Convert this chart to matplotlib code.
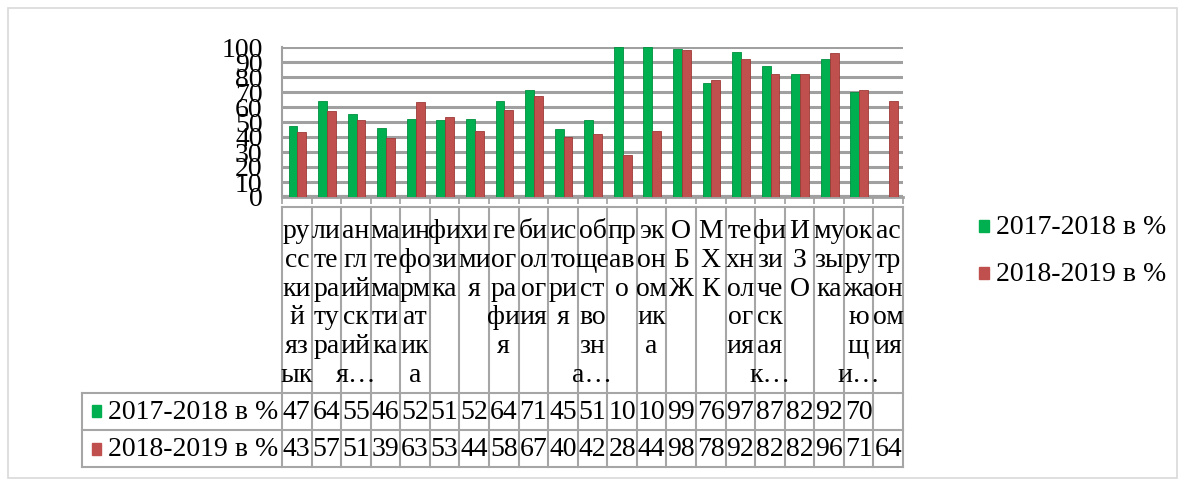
import numpy as np
import matplotlib.pyplot as plt
from matplotlib.patches import Rectangle

plt.rcParams['font.family'] = ['Liberation Serif', 'DejaVu Serif']

# --- data ---
labels = ["ру\nсс\nки\nй\nяз\nык", "ли\nте\nра\nту\nра", "ан\nгл\nий\nск\nий\nя…",
          "ма\nте\nма\nти\nка", "ин\nфо\nрм\nат\nик\nа", "фи\nзи\nка", "хи\nми\nя",
          "ге\nог\nра\nфи\nя", "би\nол\nог\nия", "ис\nто\nри\nя", "об\nще\nст\nво\nзн\nа…",
          "пр\nав\nо", "эк\nон\nом\nик\nа", "О\nБ\nЖ", "М\nХ\nК", "те\nхн\nол\nог\nия",
          "фи\nзи\nче\nск\nая\nк…", "И\nЗ\nО", "му\nзы\nка", "ок\nру\nжа\nю\nщ\nи…",
          "ас\nтр\nон\nом\nия"]
s1_name = "2017-2018 в %"
s2_name = "2018-2019 в %"
s1 = [47, 64, 55, 46, 52, 51, 52, 64, 71, 45, 51, 100, 100, 99, 76, 97, 87, 82, 92, 70, None]
s2 = [43, 57, 51, 39, 63, 53, 44, 58, 67, 40, 42, 28, 44, 98, 78, 92, 82, 82, 96, 71, 64]

green = '#00B050'
red = '#C0504D'
grid = '#A0A0A0'

W, H = 1185, 486
fig = plt.figure(figsize=(W / 100, H / 100), dpi=100)

def fx(px):
    return px / W

def fy(py):
    return 1 - py / H

# plot area (pixels)
x0, x1 = 282, 903
y100, y0 = 47, 197
n = len(labels)
colw = (x1 - x0) / n

ax = fig.add_axes([fx(x0), fy(y0), fx(x1) - fx(x0), fy(y100) - fy(y0)])
idx = np.arange(n)
g = np.array([np.nan if v is None else v for v in s1], dtype=float)
r = np.array(s2, dtype=float)
ax.bar(idx - 0.13, g, width=0.3, color=green, edgecolor='#00903F', linewidth=0.6, zorder=3)
ax.bar(idx + 0.17, r, width=0.3, color=red, edgecolor='#9E3B38', linewidth=0.6, zorder=3)
ax.set_xlim(-0.5, n - 0.5)
ax.set_ylim(0, 100)
ax.set_yticks(range(0, 101, 10))
ax.set_yticklabels([str(v) for v in range(0, 101, 10)], fontsize=20)
ax.tick_params(axis='y', length=0, pad=14)
ax.set_xticks(np.arange(n + 1) - 0.5)
ax.set_xticklabels([])
ax.tick_params(axis='x', length=5, color=grid, width=1.2, direction='out')
for v in range(10, 101, 10):
    ax.axhline(v, color=grid, lw=2.2, zorder=1)
ax.axhline(0, color=grid, lw=3, zorder=1)
for sp in ['top', 'right']:
    ax.spines[sp].set_visible(False)
ax.spines['left'].set_color(grid)
ax.spines['left'].set_linewidth(1.5)
ax.spines['bottom'].set_color(grid)
ax.spines['bottom'].set_linewidth(2)
ax.patch.set_alpha(0)

# overlay axes in pixel coordinates for table, legend, frame
ov = fig.add_axes([0, 0, 1, 1])
ov.set_xlim(0, W)
ov.set_ylim(H, 0)
ov.axis('off')
ov.patch.set_alpha(0)

ov.add_patch(Rectangle((8, 8), 1169, 470, fill=False, edgecolor='#D9D9D9', lw=1.2))

ty0, ty1, ty2, ty3 = 207, 393, 430, 467
hx = 82
lc = '#A6A6A6'
ov.plot([x0, x1], [ty0, ty0], color=lc, lw=1.5)
for yy in (ty1, ty2, ty3):
    ov.plot([hx, x1], [yy, yy], color=lc, lw=1.5)
ov.plot([hx, hx], [ty1, ty3], color=lc, lw=1.5)
for i in range(n + 1):
    xx = x0 + i * colw
    ov.plot([xx, xx], [ty0, ty3], color=lc, lw=1.5)

for i, lab in enumerate(labels):
    cx = x0 + (i + 0.5) * colw
    ov.text(cx, 219, lab, ha='center', va='top', fontsize=20, linespacing=1.2)
    if s1[i] is not None:
        ov.text(cx, (ty1 + ty2) / 2 + 1, str(s1[i])[:2], ha='center', va='center', fontsize=20)
    ov.text(cx, (ty2 + ty3) / 2 + 1, str(s2[i])[:2], ha='center', va='center', fontsize=20)

# row headers
ov.add_patch(Rectangle((92, 405), 9, 12, color=green))
ov.text(108, (ty1 + ty2) / 2 + 1, s1_name, ha='left', va='center', fontsize=20)
ov.add_patch(Rectangle((92, 443), 9, 12, color=red))
ov.text(108, (ty2 + ty3) / 2 + 1, s2_name, ha='left', va='center', fontsize=20)

# legend
ov.add_patch(Rectangle((979, 220), 10, 12, color=green))
ov.text(996, 227, s1_name, ha='left', va='center', fontsize=20)
ov.add_patch(Rectangle((979, 267), 10, 12, color=red))
ov.text(996, 274, s2_name, ha='left', va='center', fontsize=20)

fig.savefig('out.png', dpi=100)
